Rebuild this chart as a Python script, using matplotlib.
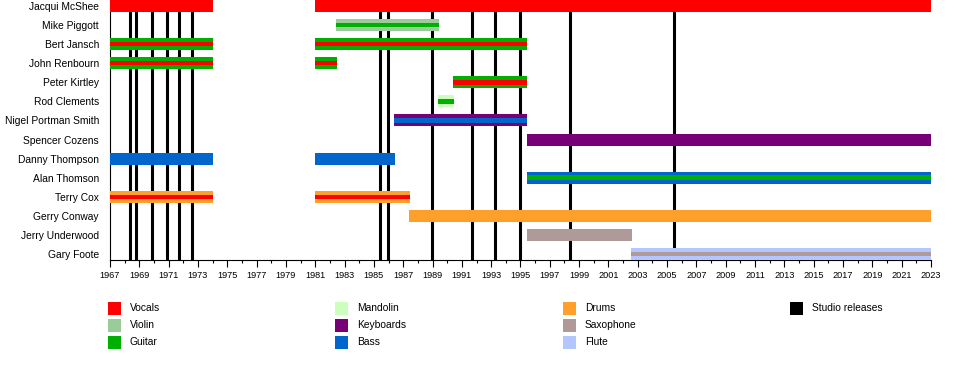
import matplotlib
matplotlib.use("Agg")
import matplotlib.pyplot as plt
from matplotlib.patches import Rectangle

plt.rcParams['font.family'] = ['Liberation Sans', 'DejaVu Sans']

# band members, top to bottom
members = ["Jacqui McShee", "Mike Piggott", "Bert Jansch", "John Renbourn",
           "Peter Kirtley", "Rod Clements", "Nigel Portman Smith", "Spencer Cozens",
           "Danny Thompson", "Alan Thomson", "Terry Cox", "Gerry Conway",
           "Jerry Underwood", "Gary Foote"]

# membership periods: member, start, end, main instrument, secondary instrument (stripe)
bar_member = ["Jacqui McShee", "Jacqui McShee", "Mike Piggott", "Bert Jansch", "Bert Jansch",
              "John Renbourn", "John Renbourn", "Peter Kirtley", "Rod Clements",
              "Nigel Portman Smith", "Spencer Cozens", "Danny Thompson", "Danny Thompson",
              "Alan Thomson", "Terry Cox", "Terry Cox", "Gerry Conway", "Jerry Underwood",
              "Gary Foote"]
bar_start = [1967.0, 1981.0, 1982.42, 1967.0, 1981.0,
             1967.0, 1981.0, 1990.4, 1989.37,
             1986.4, 1995.42, 1967.0, 1981.0,
             1995.42, 1967.0, 1981.0, 1987.42, 1995.42,
             2002.55]
bar_end = [1974.0, 2023.0, 1989.42, 1974.0, 1995.42,
           1974.0, 1982.45, 1995.42, 1990.44,
           1995.42, 2023.0, 1974.0, 1986.44,
           2023.0, 1974.0, 1987.45, 2023.0, 2002.6,
           2023.0]
bar_main = ["Vocals", "Vocals", "Violin", "Guitar", "Guitar",
            "Guitar", "Guitar", "Guitar", "Mandolin",
            "Keyboards", "Keyboards", "Bass", "Bass",
            "Bass", "Drums", "Drums", "Drums", "Saxophone",
            "Flute"]
bar_stripe = [None, None, "Guitar", "Vocals", "Vocals",
              "Vocals", "Vocals", "Vocals", "Guitar",
              "Bass", None, None, None,
              "Guitar", "Vocals", "Vocals", None, None,
              "Saxophone"]

# studio album releases
release_years = [1968.36, 1968.77, 1969.84, 1970.9, 1971.73, 1972.6,
                 1985.42, 1985.98, 1988.99, 1991.7, 1993.28, 1994.97,
                 1998.38, 2005.47]

instruments = ["Vocals", "Violin", "Guitar", "Mandolin", "Keyboards", "Bass",
               "Drums", "Saxophone", "Flute"]
instrument_colors = {
    "Vocals": "#ff0000",
    "Violin": "#99cc99",
    "Guitar": "#00b000",
    "Mandolin": "#ccffbb",
    "Keyboards": "#770077",
    "Bass": "#0066cc",
    "Drums": "#ffa02a",
    "Saxophone": "#b09999",
    "Flute": "#b3c6ff",
}

fig = plt.figure(figsize=(9.6, 3.8), dpi=100)
ax = fig.add_axes([110 / 960, 1 - 260 / 380, 821 / 960, 260 / 380])

bar_h = 0.63
stripe_h = 0.24
row_of = {m: i for i, m in enumerate(members)}

for m, s, e, main, stripe in zip(bar_member, bar_start, bar_end, bar_main, bar_stripe):
    y = row_of[m]
    ax.barh(y, e - s, left=s, height=bar_h, color=instrument_colors[main],
            linewidth=0, zorder=3)
    if stripe is not None:
        ax.barh(y, e - s, left=s, height=stripe_h, color=instrument_colors[stripe],
                linewidth=0, zorder=4)

for yr in release_years:
    ax.axvline(yr, color="black", linewidth=2.2, zorder=2)

ax.set_xlim(1967, 2023)
ax.set_ylim(13.31, -0.31)
ax.set_yticks(range(len(members)))
ax.set_yticklabels(members, fontsize=7.4)
ax.tick_params(axis="y", length=0, pad=8)
ax.set_xticks(range(1967, 2024, 2))
ax.set_xticks(range(1967, 2024), minor=True)
ax.tick_params(axis="x", which="major", length=5, width=0.8, labelsize=6.6, pad=3)
ax.tick_params(axis="x", which="minor", length=2.5, width=0.8)
for side in ["top", "right"]:
    ax.spines[side].set_visible(False)
ax.spines["left"].set_linewidth(0.8)
ax.spines["bottom"].set_linewidth(0.8)

# legend
legend_cols = [["Vocals", "Violin", "Guitar"],
               ["Mandolin", "Keyboards", "Bass"],
               ["Drums", "Saxophone", "Flute"],
               ["Studio releases"]]
col_x = [108, 335, 563, 790]
row_y = [308, 325, 342]
for cx, names in zip(col_x, legend_cols):
    for ry, name in zip(row_y, names):
        color = instrument_colors.get(name, "black")
        fig.add_artist(Rectangle((cx / 960, 1 - (ry + 6.5) / 380), 13 / 960, 13 / 380,
                                 transform=fig.transFigure, facecolor=color,
                                 edgecolor="none"))
        fig.text((cx + 22) / 960, 1 - ry / 380, name, fontsize=7.4, va="center", ha="left")

fig.savefig("out.png", dpi=100)
